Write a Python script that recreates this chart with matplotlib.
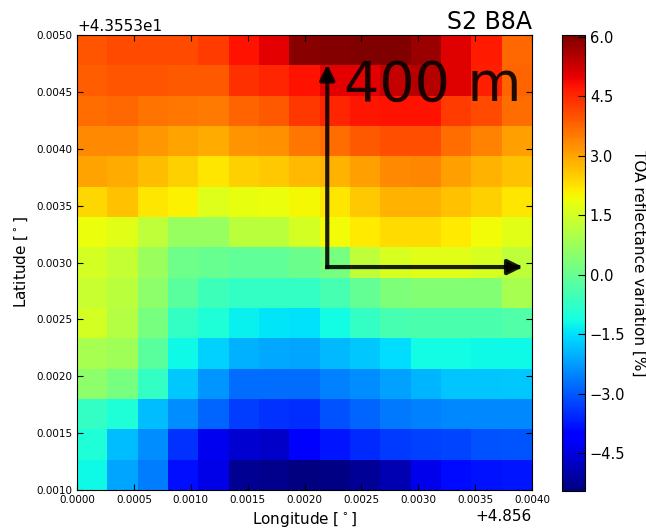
import numpy as np
import matplotlib
matplotlib.use("Agg")
import matplotlib.pyplot as plt
from matplotlib.ticker import MultipleLocator, ScalarFormatter

# S2 B8A TOA reflectance variation [%], 15 x 15 pixels, rows from north (top) to south
row_values = [
    [3.98, 4.10, 4.10, 4.10, 4.28, 4.77, 5.04, 5.95, 6.00, 6.05, 6.02, 5.75, 5.10, 4.70, 3.75],
    [3.86, 3.98, 3.98, 3.92, 3.92, 4.41, 4.53, 4.77, 5.05, 5.05, 5.35, 5.50, 5.10, 4.65, 3.80],
    [3.68, 3.74, 3.61, 3.55, 3.49, 3.80, 3.92, 4.30, 4.53, 4.71, 4.77, 4.77, 4.28, 4.10, 3.67],
    [3.31, 3.31, 3.13, 3.01, 2.94, 3.19, 3.25, 3.55, 3.68, 3.92, 4.04, 4.04, 3.68, 3.43, 3.07],
    [3.01, 2.94, 2.70, 2.46, 2.21, 2.46, 2.58, 2.76, 2.82, 3.07, 3.31, 3.37, 3.07, 2.82, 2.64],
    [2.40, 2.64, 2.21, 2.07, 1.65, 1.79, 1.86, 2.00, 2.21, 2.58, 2.82, 2.82, 2.64, 2.46, 2.21],
    [1.86, 1.72, 1.23, 0.67, 0.67, 1.16, 1.16, 1.51, 1.93, 2.15, 2.34, 2.34, 2.15, 1.93, 1.72],
    [1.55, 1.30, 0.70, 0.11, 0.00, -0.08, -0.10, 0.05, 0.25, 1.23, 1.58, 1.72, 1.72, 1.58, 1.23],
    [1.37, 1.16, 0.53, -0.17, -0.59, -0.73, -0.73, -0.70, -0.45, -0.03, 0.32, 0.39, 0.39, 0.39, 0.92],
    [1.51, 1.09, 0.25, -0.73, -1.00, -1.31, -1.42, -1.48, -1.15, -0.73, -0.45, -0.38, -0.38, -0.38, -0.31],
    [0.88, 0.81, -0.17, -1.22, -1.65, -2.04, -2.10, -2.15, -1.93, -1.76, -1.53, -1.15, -1.15, -1.20, -1.20],
    [0.53, 0.25, -0.73, -1.76, -2.32, -2.77, -2.77, -2.77, -2.55, -2.43, -2.21, -1.98, -1.81, -1.81, -1.76],
    [-0.73, -1.00, -1.87, -2.43, -2.89, -3.34, -3.45, -3.51, -3.11, -2.89, -2.66, -2.55, -2.49, -2.49, -2.49],
    [-1.00, -1.87, -2.43, -3.45, -4.33, -4.63, -4.73, -4.05, -3.79, -3.56, -3.39, -3.28, -3.22, -3.11, -3.05],
    [-1.20, -2.15, -2.60, -3.85, -4.40, -5.25, -5.32, -5.46, -5.38, -5.22, -4.93, -4.35, -3.90, -3.84, -3.79],
]

lon_range = (4.856, 4.860)
lat_range = (43.554, 43.558)
lon_offset = 4.856
lat_offset = 43.553
cbar_ticks = [-4.5, -3.0, -1.5, 0.0, 1.5, 3.0, 4.5, 6.0]

# scale bar drawn on top of the map
bar_corner = (4.8582, 43.55596)
bar_top = (4.8582, 43.55774)
bar_right = (4.85992, 43.55596)
bar_label = "400 m"
bar_label_pos = (4.85835, 43.55742)

values = np.array(row_values)
n_rows, n_cols = values.shape
lon_edges = np.linspace(lon_range[0], lon_range[1], n_cols + 1)
lat_edges = np.linspace(lat_range[0], lat_range[1], n_rows + 1)

fig = plt.figure(figsize=(6.46, 5.28), dpi=100)
ax = fig.add_axes([77 / 646, 38 / 528, 455 / 646, 455 / 528])
cax = fig.add_axes([562 / 646, 37 / 528, 23 / 646, 456 / 528])

mesh = ax.pcolormesh(lon_edges, lat_edges, values[::-1], cmap="jet", shading="flat")
ax.set_xlim(*lon_range)
ax.set_ylim(*lat_range)

ax.xaxis.set_major_locator(MultipleLocator(0.0005))
ax.yaxis.set_major_locator(MultipleLocator(0.0005))
ax.xaxis.set_major_formatter(ScalarFormatter(useOffset=lon_offset))
ax.yaxis.set_major_formatter(ScalarFormatter(useOffset=lat_offset))
ax.tick_params(direction="in", top=True, right=True, labelsize=7.5, length=4)
ax.xaxis.get_offset_text().set_fontsize(11)
ax.yaxis.get_offset_text().set_fontsize(11)

ax.set_xlabel(r"Longitude [$^\circ$]", fontsize=11)
ax.set_ylabel(r"Latitude [$^\circ$]", fontsize=11)
ax.set_title("S2 B8A", loc="right", fontsize=17, pad=4)

arrow_style = dict(arrowstyle="-|>", lw=3, color="k", alpha=0.88,
                   mutation_scale=22, shrinkA=0, shrinkB=0, capstyle="projecting")
ax.annotate("", xy=bar_top, xytext=bar_corner, arrowprops=arrow_style)
ax.annotate("", xy=bar_right, xytext=bar_corner, arrowprops=arrow_style)
ax.text(bar_label_pos[0], bar_label_pos[1], bar_label, fontsize=40,
        color="k", alpha=0.88, ha="left", va="baseline")

cbar = fig.colorbar(mesh, cax=cax, ticks=cbar_ticks)
cbar.ax.tick_params(direction="in", labelsize=10.5, length=5)
cbar.set_label("TOA reflectance variation [%]", rotation=270, va="bottom",
               fontsize=11, labelpad=4)

fig.savefig("out.png", dpi=100)
